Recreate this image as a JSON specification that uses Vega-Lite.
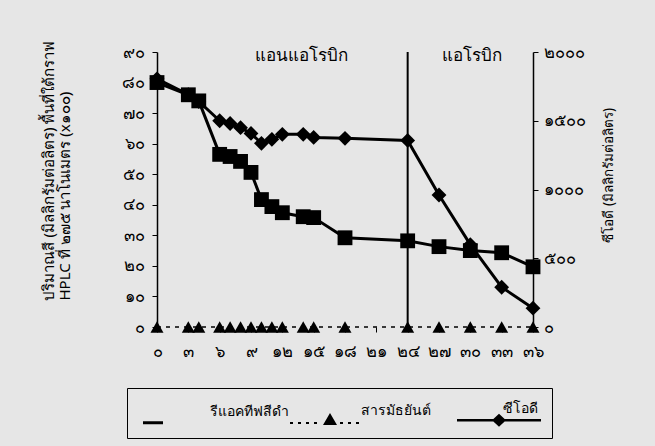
{
  "$schema": "https://vega.github.io/schema/vega-lite/v6.json",
  "width": 376,
  "height": 275,
  "autosize": {"type": "none"},
  "padding": {"left": 157, "top": 52, "right": 122, "bottom": 119},
  "background": "#e6e6e6",
  "config": {
    "view": {"stroke": null},
    "font": "Noto Sans",
    "axis": {
      "domainColor": "black",
      "tickColor": "black",
      "labelColor": "black",
      "titleColor": "black",
      "grid": false,
      "labelFontSize": 16.5,
      "labelOverlap": false,
      "titleFontSize": 15,
      "titleFontWeight": "normal",
      "tickSize": 5
    },
    "legend": {"labelColor": "black"}
  },
  "datasets": {
    "dye": [
      {"day": 0, "value": 80, "series": "รีแอคทีฟสีดำ"},
      {"day": 3, "value": 76, "series": "รีแอคทีฟสีดำ"},
      {"day": 4, "value": 74, "series": "รีแอคทีฟสีดำ"},
      {"day": 6, "value": 56.5, "series": "รีแอคทีฟสีดำ"},
      {"day": 7, "value": 55.8, "series": "รีแอคทีฟสีดำ"},
      {"day": 8, "value": 54.2, "series": "รีแอคทีฟสีดำ"},
      {"day": 9, "value": 50.6, "series": "รีแอคทีฟสีดำ"},
      {"day": 10, "value": 41.7, "series": "รีแอคทีฟสีดำ"},
      {"day": 11, "value": 39.4, "series": "รีแอคทีฟสีดำ"},
      {"day": 12, "value": 37.4, "series": "รีแอคทีฟสีดำ"},
      {"day": 14, "value": 36.1, "series": "รีแอคทีฟสีดำ"},
      {"day": 15, "value": 35.8, "series": "รีแอคทีฟสีดำ"},
      {"day": 18, "value": 29.2, "series": "รีแอคทีฟสีดำ"},
      {"day": 24, "value": 28.2, "series": "รีแอคทีฟสีดำ"},
      {"day": 27, "value": 26.3, "series": "รีแอคทีฟสีดำ"},
      {"day": 30, "value": 25.0, "series": "รีแอคทีฟสีดำ"},
      {"day": 33, "value": 24.3, "series": "รีแอคทีฟสีดำ"},
      {"day": 36, "value": 19.7, "series": "รีแอคทีฟสีดำ"}
    ],
    "inter": [
      {"day": 0, "value": 0, "series": "สารมัธยันต์"},
      {"day": 3, "value": 0, "series": "สารมัธยันต์"},
      {"day": 4, "value": 0, "series": "สารมัธยันต์"},
      {"day": 6, "value": 0, "series": "สารมัธยันต์"},
      {"day": 7, "value": 0, "series": "สารมัธยันต์"},
      {"day": 8, "value": 0, "series": "สารมัธยันต์"},
      {"day": 9, "value": 0, "series": "สารมัธยันต์"},
      {"day": 10, "value": 0, "series": "สารมัธยันต์"},
      {"day": 11, "value": 0, "series": "สารมัธยันต์"},
      {"day": 12, "value": 0, "series": "สารมัธยันต์"},
      {"day": 14, "value": 0, "series": "สารมัธยันต์"},
      {"day": 15, "value": 0, "series": "สารมัธยันต์"},
      {"day": 18, "value": 0, "series": "สารมัธยันต์"},
      {"day": 24, "value": 0, "series": "สารมัธยันต์"},
      {"day": 27, "value": 0, "series": "สารมัธยันต์"},
      {"day": 30, "value": 0, "series": "สารมัธยันต์"},
      {"day": 33, "value": 0, "series": "สารมัธยันต์"},
      {"day": 36, "value": 0, "series": "สารมัธยันต์"}
    ],
    "cod": [
      {"day": 0, "value": 1805, "series": "ซีโอดี"},
      {"day": 3, "value": 1690, "series": "ซีโอดี"},
      {"day": 4, "value": 1640, "series": "ซีโอดี"},
      {"day": 6, "value": 1500, "series": "ซีโอดี"},
      {"day": 7, "value": 1480, "series": "ซีโอดี"},
      {"day": 8, "value": 1450, "series": "ซีโอดี"},
      {"day": 9, "value": 1408, "series": "ซีโอดี"},
      {"day": 10, "value": 1336, "series": "ซีโอดี"},
      {"day": 11, "value": 1365, "series": "ซีโอดี"},
      {"day": 12, "value": 1401, "series": "ซีโอดี"},
      {"day": 14, "value": 1401, "series": "ซีโอดี"},
      {"day": 15, "value": 1379, "series": "ซีโอดี"},
      {"day": 18, "value": 1372, "series": "ซีโอดี"},
      {"day": 24, "value": 1357, "series": "ซีโอดี"},
      {"day": 27, "value": 960, "series": "ซีโอดี"},
      {"day": 30, "value": 599, "series": "ซีโอดี"},
      {"day": 33, "value": 289, "series": "ซีโอดี"},
      {"day": 36, "value": 137, "series": "ซีโอดี"}
    ],
    "phase": [
      {"day": 24}
    ],
    "notes": [
      {"day": 13.8, "value": 88.8, "label": "แอนแอโรบิก"},
      {"day": 30.2, "value": 88.8, "label": "แอโรบิก"}
    ]
  },
  "encoding": {
    "x": {
      "field": "day", "type": "quantitative",
      "scale": {"domain": [0, 36], "nice": false, "zero": false},
      "axis": {
        "title": null,
        "values": [0, 3, 6, 9, 12, 15, 18, 21, 24, 27, 30, 33, 36],
        "domain": false,
        "labelOverlap": false,
        "labelFlush": false,
        "labelPadding": 11,
        "labelExpr": "replace(replace(replace(replace(replace(replace(replace(replace(replace(replace(datum.label,regexp('0','g'),'๐'),regexp('1','g'),'๑'),regexp('2','g'),'๒'),regexp('3','g'),'๓'),regexp('4','g'),'๔'),regexp('5','g'),'๕'),regexp('6','g'),'๖'),regexp('7','g'),'๗'),regexp('8','g'),'๘'),regexp('9','g'),'๙')"
      }
    }
  },
  "layer": [
    {
      "data": {"name": "phase"},
      "mark": {"type": "rule", "color": "black", "strokeWidth": 2},
      "encoding": {}
    },
    {
      "encoding": {
        "y": {
          "field": "value", "type": "quantitative",
          "scale": {"domain": [0, 90], "nice": false},
          "axis": {
            "values": [0, 10, 20, 30, 40, 50, 60, 70, 80, 90],
            "labelOverlap": false,
            "labelPadding": 8,
            "domainWidth": 1.5,
            "labelExpr": "replace(replace(replace(replace(replace(replace(replace(replace(replace(replace(datum.label,regexp('0','g'),'๐'),regexp('1','g'),'๑'),regexp('2','g'),'๒'),regexp('3','g'),'๓'),regexp('4','g'),'๔'),regexp('5','g'),'๕'),regexp('6','g'),'๖'),regexp('7','g'),'๗'),regexp('8','g'),'๘'),regexp('9','g'),'๙')",
            "title": ["ปริมาณสี (มิลลิกรัมต่อลิตร) พื้นที่ใต้กราฟ", "HPLC ที่ ๒๗๕ นาโนเมตร (x๑๐๐)"],
            "titleAngle": -90,
            "titleAlign": "left",
            "titleBaseline": "alphabetic",
            "titleX": -104,
            "titleY": 248,
            "titleLineHeight": 16
          }
        }
      },
      "layer": [
        {
          "data": {"name": "dye"},
          "mark": {"type": "line", "color": "black", "strokeWidth": 3}
        },
        {
          "data": {"name": "inter"},
          "mark": {"type": "line", "color": "black", "strokeWidth": 1.5, "strokeDash": [4, 5]}
        },
        {
          "data": {"name": "notes"},
          "mark": {"type": "text", "color": "black", "fontSize": 17, "baseline": "middle"},
          "encoding": {
            "text": {"field": "label"}
          }
        },
        {
          "data": {"name": "dye"},
          "mark": {"type": "point", "filled": true, "opacity": 1, "color": "black", "size": 220, "shape": "square"}
        },
        {
          "data": {"name": "inter"},
          "mark": {"type": "point", "filled": true, "opacity": 1, "color": "black", "size": 170, "shape": "triangle-up"}
        },
        {
          "data": {"name": "dye"},
          "mark": {"type": "point", "filled": true, "opacity": 0, "color": "black"},
          "encoding": {
            "shape": {
              "field": "series", "type": "nominal",
              "scale": {
                "domain": ["รีแอคทีฟสีดำ", "สารมัธยันต์", "ซีโอดี"],
                "range": [
                  "M-1.7,0.95H0.3V1.25H-1.7Z",
                  "M-2.1,1.1H-1.8V1.3H-2.1Z M-1.3,1.1H-1V1.3H-1.3Z M-0.5,1.1H-0.2V1.3H-0.5Z M0.3,1.1H0.6V1.3H0.3Z M2.9,1.1H3.2V1.3H2.9Z M3.7,1.1H4V1.3H3.7Z M4.5,1.1H4.8V1.3H4.5Z M1.2,1.4L1.9,0.2L2.6,1.4Z",
                  "M0.4,0.98H8.8V1.22H0.4Z M3.9,1.1L4.6,0.45L5.3,1.1L4.6,1.75Z"
                ]
              },
              "legend": {
                "title": null,
                "orient": "none",
                "legendX": -30,
                "legendY": 336,
                "direction": "horizontal",
                "fillColor": "#e6e6e6",
                "strokeColor": "black",
                "padding": 11,
                "symbolSize": 400,
                "symbolOffset": 12,
                "labelOffset": 40,
                "columnPadding": 0,
                "labelFontSize": 14,
                "symbolOpacity": 1,
                "symbolFillColor": "black",
                "symbolStrokeColor": "black",
                "symbolStrokeWidth": 0,
                "encode": {
                  "legend": {"update": {"strokeWidth": {"value": 1.5}}}
                }
              }
            }
          }
        }
      ]
    },
    {
      "data": {"name": "cod"},
      "encoding": {
        "y": {
          "field": "value", "type": "quantitative",
          "scale": {"domain": [0, 2000], "nice": false},
          "axis": {
            "orient": "right",
            "values": [0, 500, 1000, 1500, 2000],
            "format": "d",
            "labelOverlap": false,
            "labelPadding": 5,
            "domainWidth": 1.5,
            "labelExpr": "replace(replace(replace(replace(replace(replace(replace(replace(replace(replace(datum.label,regexp('0','g'),'๐'),regexp('1','g'),'๑'),regexp('2','g'),'๒'),regexp('3','g'),'๓'),regexp('4','g'),'๔'),regexp('5','g'),'๕'),regexp('6','g'),'๖'),regexp('7','g'),'๗'),regexp('8','g'),'๘'),regexp('9','g'),'๙')",
            "title": "ซีโอดี (มิลลิกรัมต่อลิตร)",
            "titleFontSize": 13.5,
            "titleAngle": -90,
            "titleAlign": "left",
            "titleBaseline": "alphabetic",
            "titleX": 79,
            "titleY": 190
          }
        }
      },
      "layer": [
        {
          "mark": {"type": "line", "color": "black", "strokeWidth": 3}
        },
        {
          "mark": {"type": "point", "filled": true, "opacity": 1, "color": "black", "size": 220, "shape": "diamond"}
        }
      ]
    }
  ],
  "resolve": {"scale": {"y": "independent"}}
}
